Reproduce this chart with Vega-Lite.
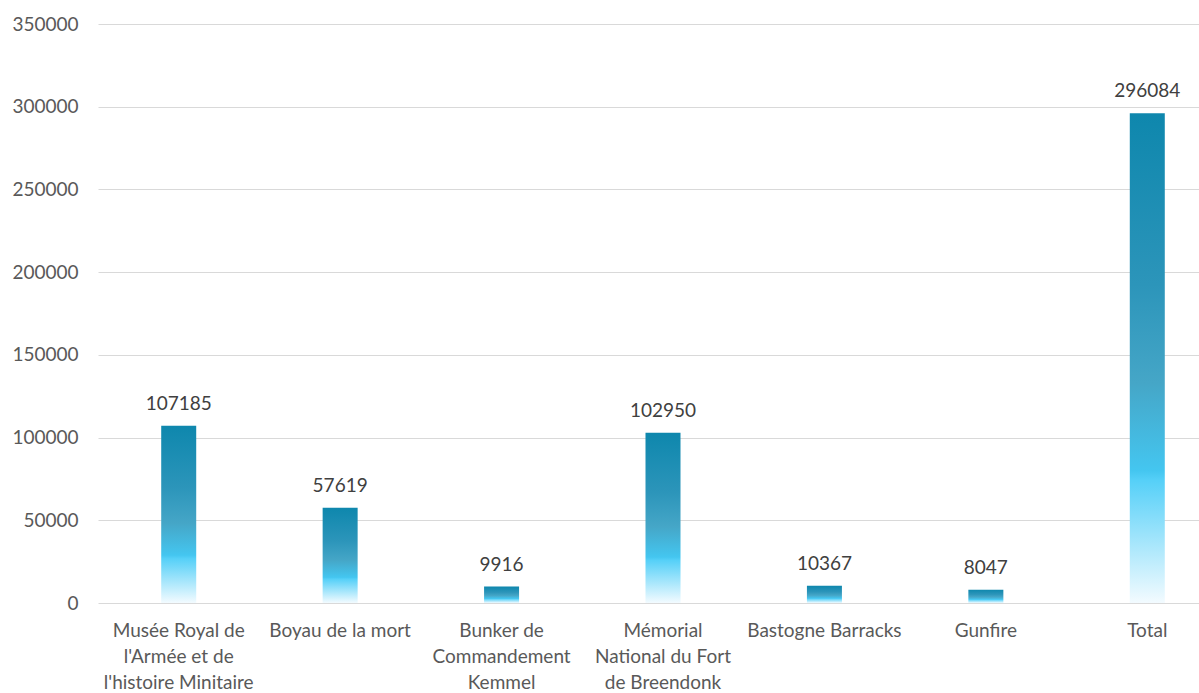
{
  "$schema": "https://vega.github.io/schema/vega-lite/v6.json",
  "width": 1101,
  "height": 579,
  "autosize": {"type": "none"},
  "padding": {"left": 98, "top": 24, "right": 0, "bottom": 90},
  "background": "white",
  "config": {
    "view": {"stroke": null},
    "font": "Lato"
  },
  "data": {
    "values": [
      {"site": "Musée Royal de l'Armée et de l'histoire Minitaire", "visitors": 107185},
      {"site": "Boyau de la mort", "visitors": 57619},
      {"site": "Bunker de Commandement Kemmel", "visitors": 9916},
      {"site": "Mémorial National du Fort de Breendonk", "visitors": 102950},
      {"site": "Bastogne Barracks", "visitors": 10367},
      {"site": "Gunfire", "visitors": 8047},
      {"site": "Total", "visitors": 296084}
    ]
  },
  "encoding": {
    "x": {
      "field": "site",
      "type": "nominal",
      "sort": null,
      "scale": {"range": [0, 1130], "paddingInner": 0.78, "paddingOuter": 0.39},
      "axis": {
        "title": null,
        "domain": false,
        "ticks": false,
        "labelAngle": 0,
        "labelFontSize": 19,
        "labelColor": "#595959",
        "labelPadding": 18,
        "labelLineHeight": 26,
        "labelBaseline": "top",
        "labelLimit": 200,
        "labelExpr": "indexof(datum.value,'Musée')==0 ? ['Musée Royal de', \"l'Armée et de\", \"l'histoire Minitaire\"] : indexof(datum.value,'Bunker')==0 ? ['Bunker de','Commandement','Kemmel'] : indexof(datum.value,'Mémorial')==0 ? ['Mémorial','National du Fort','de Breendonk'] : datum.value"
      }
    },
    "y": {
      "field": "visitors",
      "type": "quantitative",
      "scale": {"domain": [0, 350000], "nice": false},
      "axis": {
        "title": null,
        "domain": false,
        "ticks": false,
        "values": [0, 50000, 100000, 150000, 200000, 250000, 300000, 350000],
        "format": "d",
        "labelFontSize": 19,
        "labelColor": "#595959",
        "labelPadding": 20,
        "gridColor": "#d9d9d9",
        "gridWidth": 1
      }
    }
  },
  "layer": [
    {
      "mark": {
        "type": "bar",
        "width": 35,
        "color": {
          "gradient": "linear",
          "x1": 0, "y1": 0, "x2": 0, "y2": 1,
          "stops": [
            {"offset": 0, "color": "#0e87ad"},
            {"offset": 0.35, "color": "#2c95ba"},
            {"offset": 0.55, "color": "#45a6c7"},
            {"offset": 0.73, "color": "#44c6f0"},
            {"offset": 0.75, "color": "#56d0f8"},
            {"offset": 1, "color": "#f3fbff"}
          ]
        }
      }
    },
    {
      "mark": {"type": "text", "baseline": "bottom", "dy": -12, "fontSize": 19, "color": "#404040"},
      "encoding": {"text": {"field": "visitors", "type": "quantitative", "format": "d"}}
    }
  ]
}
